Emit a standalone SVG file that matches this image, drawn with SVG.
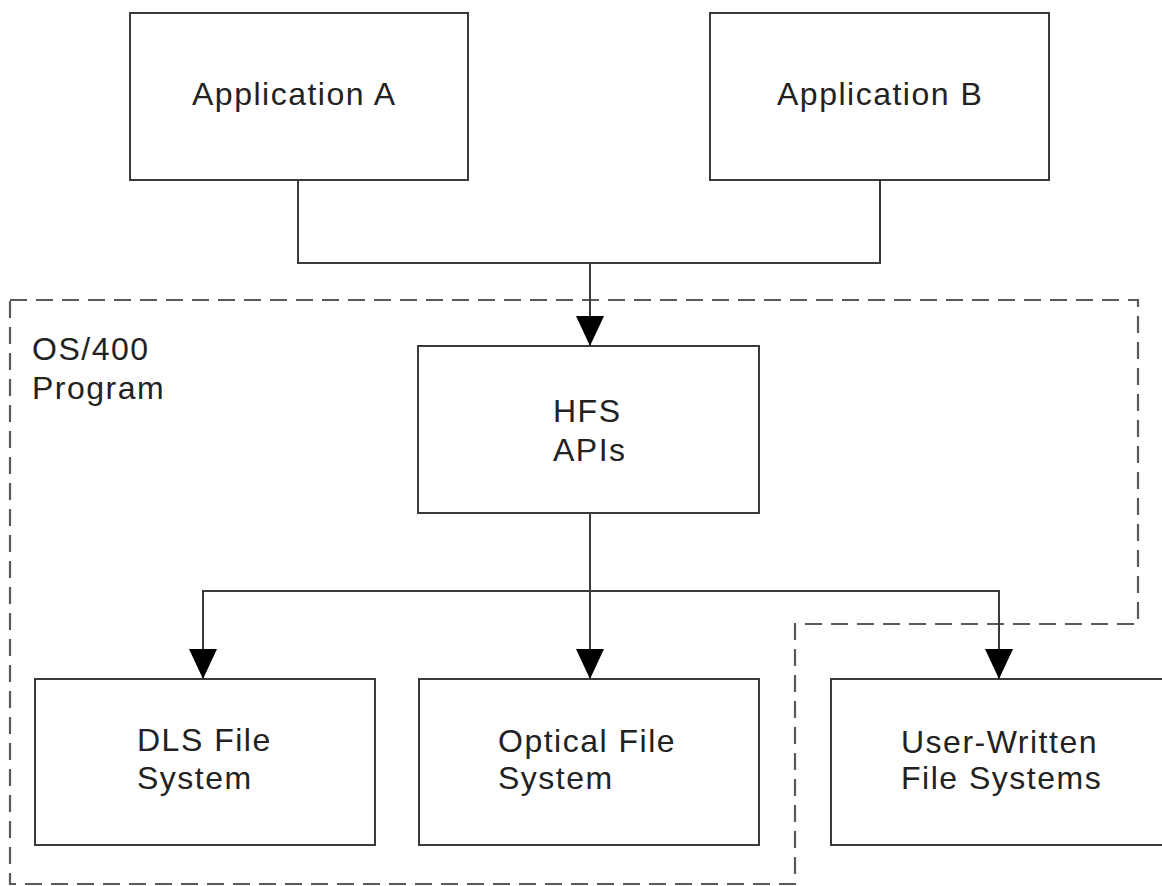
<svg xmlns="http://www.w3.org/2000/svg" width="1162" height="886" viewBox="0 0 1162 886">
<defs>
<style>
.box{fill:#fff;stroke:#3a3a3a;stroke-width:2}
.lbl{font-family:"Liberation Sans",Arial,sans-serif;font-size:32px;letter-spacing:1.5px;fill:#222}
.conn{fill:none;stroke:#3a3a3a;stroke-width:2}
.dash{fill:none;stroke:#5a5a5a;stroke-width:2.2;stroke-dasharray:17 9}
</style>
<marker id="arr" markerWidth="30" markerHeight="28" refX="30" refY="14" orient="auto" markerUnits="userSpaceOnUse" viewBox="0 0 30 28">
<path d="M0,0 L30,14 L0,28 Z" fill="#000"/>
</marker>
</defs>
<rect width="1162" height="886" fill="#fff"/>
<g id="os400-boundary">
<path class="dash" d="M10,300 H1138 V624 H795 V884 H10 Z"/>
<text class="lbl" x="32" y="360">OS/400</text>
<text class="lbl" x="32" y="399">Program</text>
</g>
<g id="app-a">
<rect class="box" x="130" y="13" width="338" height="167"/>
<text class="lbl" x="192" y="105">Application A</text>
</g>
<g id="app-b">
<rect class="box" x="710" y="13" width="339" height="167"/>
<text class="lbl" x="777" y="105">Application B</text>
</g>
<g id="hfs-apis">
<rect class="box" x="418" y="346" width="341" height="167"/>
<text class="lbl" x="553" y="422">HFS</text>
<text class="lbl" x="553" y="461">APIs</text>
</g>
<g id="dls">
<rect class="box" x="35" y="679" width="340" height="166"/>
<text class="lbl" x="137" y="751">DLS File</text>
<text class="lbl" x="137" y="789">System</text>
</g>
<g id="optical">
<rect class="box" x="419" y="679" width="340" height="166"/>
<text class="lbl" x="498" y="752">Optical File</text>
<text class="lbl" x="498" y="789">System</text>
</g>
<g id="user-written">
<rect class="box" x="831" y="679" width="400" height="166"/>
<text class="lbl" x="901" y="753">User-Written</text>
<text class="lbl" x="901" y="789">File Systems</text>
</g>
<g id="connectors">
<path class="conn" d="M298,180 V263 H880 V180"/>
<path class="conn" d="M590,263 V346" marker-end="url(#arr)"/>
<path class="conn" d="M590,513 V679" marker-end="url(#arr)"/>
<path class="conn" d="M590,591 H203 V679" marker-end="url(#arr)"/>
<path class="conn" d="M590,591 H999 V679" marker-end="url(#arr)"/>
</g>
</svg>
